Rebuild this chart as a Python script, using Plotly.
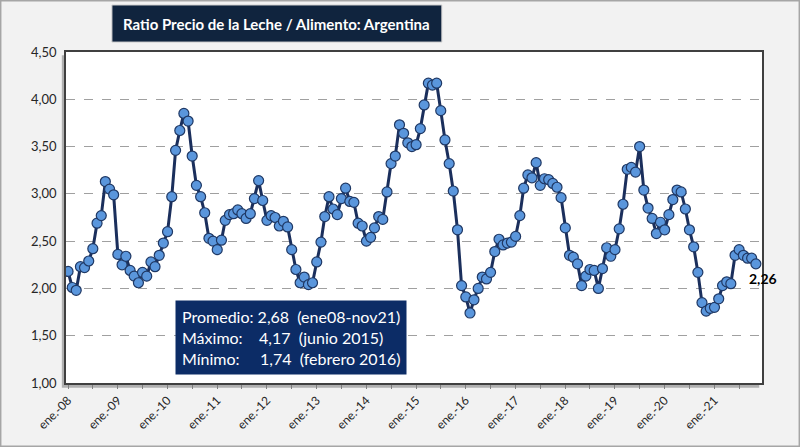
import pandas as pd
import plotly.graph_objects as go

# ratio leche / alimento, mensual ene-08 .. nov-21
ratio_2008 = [2.18, 2.01, 1.98, 2.23, 2.22, 2.29, 2.42, 2.69, 2.77, 3.13, 3.05, 2.99]
ratio_2009 = [2.36, 2.25, 2.34, 2.19, 2.13, 2.06, 2.17, 2.13, 2.28, 2.23, 2.35, 2.48]
ratio_2010 = [2.60, 2.97, 3.46, 3.67, 3.85, 3.77, 3.40, 3.09, 2.97, 2.80, 2.53, 2.50]
ratio_2011 = [2.41, 2.51, 2.72, 2.78, 2.79, 2.83, 2.79, 2.74, 2.79, 2.95, 3.14, 2.93]
ratio_2012 = [2.72, 2.77, 2.75, 2.66, 2.71, 2.65, 2.41, 2.20, 2.06, 2.12, 2.04, 2.06]
ratio_2013 = [2.28, 2.49, 2.76, 2.97, 2.84, 2.78, 2.95, 3.06, 2.92, 2.91, 2.69, 2.66]
ratio_2014 = [2.50, 2.54, 2.64, 2.76, 2.73, 3.02, 3.32, 3.40, 3.73, 3.64, 3.54, 3.50]
ratio_2015 = [3.52, 3.69, 3.94, 4.17, 4.15, 4.17, 3.88, 3.57, 3.32, 3.03, 2.62, 2.03]
ratio_2016 = [1.91, 1.74, 1.88, 2.00, 2.12, 2.10, 2.17, 2.39, 2.52, 2.46, 2.48, 2.49]
ratio_2017 = [2.55, 2.77, 3.06, 3.20, 3.17, 3.33, 3.09, 3.16, 3.15, 3.11, 3.07, 2.96]
ratio_2018 = [2.64, 2.35, 2.33, 2.26, 2.03, 2.13, 2.20, 2.19, 2.00, 2.21, 2.43, 2.34]
ratio_2019 = [2.41, 2.63, 2.89, 3.26, 3.28, 3.23, 3.50, 3.04, 2.85, 2.74, 2.58, 2.70]
ratio_2020 = [2.62, 2.78, 2.94, 3.04, 3.02, 2.84, 2.62, 2.44, 2.17, 1.85, 1.76, 1.79]
ratio_2021 = [1.80, 1.89, 2.03, 2.07, 2.05, 2.35, 2.41, 2.35, 2.32, 2.32, 2.26]

ratio = (ratio_2008 + ratio_2009 + ratio_2010 + ratio_2011 + ratio_2012 + ratio_2013
         + ratio_2014 + ratio_2015 + ratio_2016 + ratio_2017 + ratio_2018 + ratio_2019
         + ratio_2020 + ratio_2021)
dates = pd.date_range("2008-01-01", periods=len(ratio), freq="MS")

years = list(range(2008, 2022))
tick_vals = [pd.Timestamp(f"{y}-01-01") for y in years]
tick_text = [f"ene.-{str(y)[2:]}" for y in years]

title = "Ratio Precio de la Leche / Alimento: Argentina"
stats_lines = [
    "Promedio: 2,68\u00a0\u00a0(ene08-nov21)",
    "Máximo:\u00a0\u00a0\u00a0\u00a04,17\u00a0\u00a0(junio 2015)",
    "Mínimo:\u00a0\u00a0\u00a0\u00a0\u00a01,74\u00a0\u00a0(febrero 2016)",
]

fig = go.Figure()
fig.add_trace(go.Scatter(
    x=dates, y=ratio, mode="lines+markers",
    line=dict(color="#1b2f5c", width=3),
    marker=dict(size=10, color="#5a96dc", line=dict(color="#1f3864", width=1.2)),
    hoverinfo="x+y",
))

# etiqueta del ultimo valor
fig.add_annotation(
    x=dates[-1], y=ratio[-1], text=f"<b>{ratio[-1]:.2f}".replace(".", ",") + "</b>",
    showarrow=False, xshift=7, yshift=-15,
    font=dict(family="Lato, Arial", size=14, color="#000000"),
)

# titulo (el recuadro va como shape)
fig.add_annotation(
    xref="paper", yref="paper", x=0.303, y=1.086, xanchor="center", yanchor="middle",
    text=f"<b>{title}</b>", showarrow=False,
    font=dict(family="Lato, Arial", size=15, color="white"),
)

# recuadro de estadisticas
fig.add_annotation(
    xref="paper", yref="paper", x=0.157, y=0.251, xanchor="left", yanchor="top",
    text="<br>".join(stats_lines), showarrow=False, align="left",
    font=dict(family="Lato, Arial", size=16, color="white"),
    bgcolor="#0c2c66", borderpad=6,
)

fig.update_layout(
    width=800, height=447,
    margin=dict(l=66, r=38, t=52, b=64),
    paper_bgcolor="#f2f2f2", plot_bgcolor="white",
    separators=",.",
    showlegend=False,
    shapes=[
        # marco exterior
        dict(type="rect", xref="paper", yref="paper",
             x0=-66 / 696 + 0.001, x1=1 + 38 / 696 - 0.001,
             y0=-64 / 331 + 0.002, y1=1 + 52 / 331 - 0.002,
             line=dict(color="#a6a6a6", width=1.5), layer="below"),
        # sombra del area del grafico
        dict(type="rect", xref="paper", yref="paper",
             x0=-0.006, x1=0.996, y0=-0.014, y1=0.99,
             fillcolor="#b0b0b0", line=dict(width=0), layer="below"),
        dict(type="rect", xref="paper", yref="paper",
             x0=0, x1=1, y0=0, y1=1,
             fillcolor="white", line=dict(width=0), layer="below"),
        # recuadro del titulo
        dict(type="rect", xref="paper", yref="paper",
             x0=0.066, x1=0.540, y0=1.030, y1=1.142,
             fillcolor="#10243e", line=dict(color="#d0d0d0", width=1)),
    ],
)

fig.update_xaxes(
    type="date", range=["2007-12-17", "2021-12-16"],
    tickvals=tick_vals, ticktext=tick_text, tickangle=-45,
    ticks="outside", ticklen=4, tickcolor="#808080",
    minor=dict(ticks="outside", dtick="M6", tick0="2008-01-01", ticklen=4,
               tickcolor="#808080", showgrid=False),
    showgrid=False, showline=True, linecolor="#404040", linewidth=1.5, mirror=True,
    tickfont=dict(family="Lato, Arial", size=12, color="#262626"),
)
fig.update_yaxes(
    range=[1, 4.5], dtick=0.5, tickformat=".2f",
    showgrid=True, gridcolor="#a0a0a0", griddash="dash", gridwidth=1,
    showline=True, linecolor="#404040", linewidth=1.5, mirror=True,
    ticks="", zeroline=False, ticklabelstandoff=5,
    tickfont=dict(family="Lato, Arial", size=13, color="#262626"),
)

fig.write_html("out.html", post_script="document.body.style.margin='0';",
               config={"displayModeBar": False})
